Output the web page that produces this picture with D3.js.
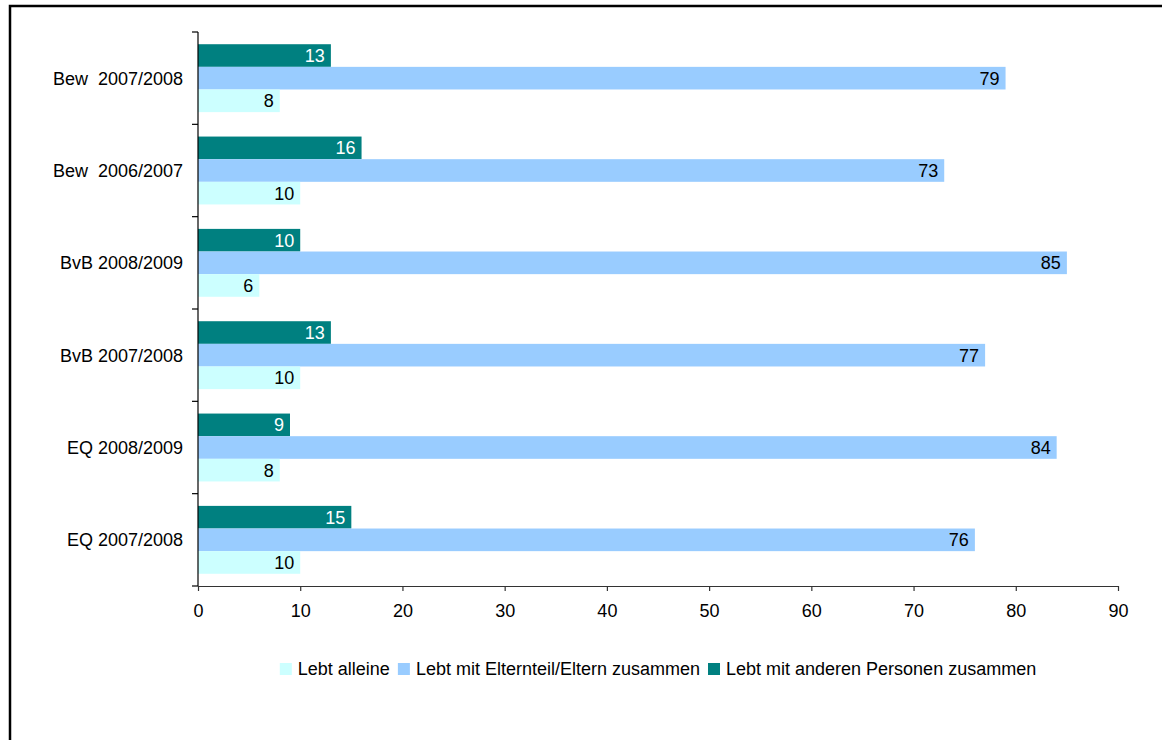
<!DOCTYPE html>
<html>
<head>
<meta charset="utf-8">
<script src="https://cdn.jsdelivr.net/npm/d3@7"></script>
<style>
  html, body { margin: 0; padding: 0; background: #fff; }
  svg { display: block; font-family: "Liberation Sans", Arial, sans-serif; }
</style>
</head>
<body>
<svg id="chart" width="1162" height="740"></svg>
<script>
// ---- data ----
const categories = ["Bew  2007/2008", "Bew  2006/2007", "BvB 2008/2009", "BvB 2007/2008", "EQ 2008/2009", "EQ 2007/2008"];
const seriesNames = ["Lebt alleine", "Lebt mit Elternteil/Eltern zusammen", "Lebt mit anderen Personen zusammen"];
const alleine = [8, 10, 6, 10, 8, 10];
const eltern = [79, 73, 85, 77, 84, 76];
const andere = [13, 16, 10, 13, 9, 15];
const xTicks = [0, 10, 20, 30, 40, 50, 60, 70, 80, 90];

const colors = { "Lebt alleine": "#CCFFFF", "Lebt mit Elternteil/Eltern zusammen": "#99CCFF", "Lebt mit anderen Personen zusammen": "#008080" };
const labelColors = { "Lebt alleine": "#000", "Lebt mit Elternteil/Eltern zusammen": "#000", "Lebt mit anderen Personen zusammen": "#fff" };
const seriesValues = { "Lebt alleine": alleine, "Lebt mit Elternteil/Eltern zusammen": eltern, "Lebt mit anderen Personen zusammen": andere };
// order of bars inside a group, top to bottom
const barOrder = ["Lebt mit anderen Personen zusammen", "Lebt mit Elternteil/Eltern zusammen", "Lebt alleine"];

const svg = d3.select("#chart");
const FS = 18;

// frame
svg.append("path")
  .attr("d", "M10,760 L10,6 L1180,6")
  .attr("fill", "none").attr("stroke", "#000").attr("stroke-width", 2.5);

const mLeft = 198, mRight = 1118, mTop = 32, mBottom = 586;
const x = d3.scaleLinear().domain([0, 90]).range([mLeft, mRight]);
const y = d3.scaleBand().domain(categories).range([mTop, mBottom]).paddingInner(0).paddingOuter(0);
const inner = d3.scaleBand().domain(barOrder).range([0, y.bandwidth()]).paddingInner(0).paddingOuter(0.54);

// bars
const g = svg.append("g");
categories.forEach((c, i) => {
  barOrder.forEach(s => {
    const v = seriesValues[s][i];
    const by = y(c) + inner(s);
    g.append("rect")
      .attr("x", x(0)).attr("y", by)
      .attr("width", x(v) - x(0)).attr("height", inner.bandwidth())
      .attr("fill", colors[s]);
    g.append("text")
      .attr("x", x(v) - 6).attr("y", by + inner.bandwidth() / 2)
      .attr("dy", "0.36em")
      .attr("text-anchor", "end")
      .attr("font-size", FS)
      .attr("fill", labelColors[s])
      .text(v);
  });
});

// y axis
const yAxisG = svg.append("g");
yAxisG.append("line")
  .attr("x1", mLeft).attr("x2", mLeft).attr("y1", mTop).attr("y2", mBottom)
  .attr("stroke", "#000").attr("stroke-width", 1.2);
const boundaries = categories.map(c => y(c)).concat([y(categories[categories.length - 1]) + y.step()]);
yAxisG.selectAll("line.tick").data(boundaries).join("line")
  .attr("class", "tick")
  .attr("x1", mLeft - 6).attr("x2", mLeft).attr("y1", d => d).attr("y2", d => d)
  .attr("stroke", "#000").attr("stroke-width", 1.2);
yAxisG.selectAll("text").data(categories).join("text")
  .attr("x", mLeft - 15).attr("y", d => y(d) + y.bandwidth() / 2)
  .attr("dy", "0.36em")
  .attr("text-anchor", "end")
  .attr("font-size", FS)
  .attr("fill", "#000")
  .style("white-space", "pre")
  .attr("xml:space", "preserve")
  .text(d => d);

// x axis
const xAxis = d3.axisBottom(x).tickValues(xTicks).tickSize(5).tickSizeOuter(0).tickPadding(13);
const xg = svg.append("g").attr("transform", `translate(0,${mBottom})`).call(xAxis);
xg.select(".domain").attr("stroke", "#333").attr("stroke-width", 1.2);
xg.selectAll(".tick line").attr("stroke", "#333").attr("stroke-width", 1.2);
xg.selectAll(".tick text").attr("font-size", FS).attr("fill", "#000").attr("font-family", "Liberation Sans, Arial, sans-serif");

// legend
const legend = svg.append("g");
const legendY = 669;
const sw = 12, gapSwText = 6, gapItems = 8;
let items = [];
let cursor = 0;
seriesNames.forEach(s => {
  const t = legend.append("text")
    .attr("font-size", FS).attr("fill", "#000")
    .attr("dy", "0.36em")
    .text(s);
  const w = t.node().getComputedTextLength();
  items.push({ s, t, start: cursor, w });
  cursor += sw + gapSwText + w + gapItems;
});
const total = cursor - gapItems;
const lx0 = (mLeft + mRight) / 2 - total / 2;
items.forEach(it => {
  legend.append("rect")
    .attr("x", lx0 + it.start).attr("y", legendY - sw / 2)
    .attr("width", sw).attr("height", sw)
    .attr("fill", colors[it.s]);
  it.t.attr("x", lx0 + it.start + sw + gapSwText).attr("y", legendY);
});
</script>
</body>
</html>
